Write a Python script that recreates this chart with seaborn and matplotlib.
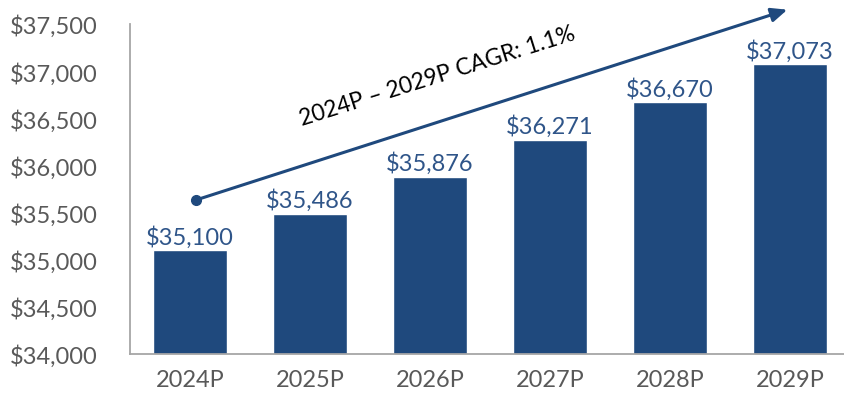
import numpy as np
import pandas as pd
import matplotlib
matplotlib.use("Agg")
import matplotlib.pyplot as plt
import seaborn as sns

years = ["2024P", "2025P", "2026P", "2027P", "2028P", "2029P"]
values = [35100, 35486, 35876, 36271, 36670, 37073]
cagr_text = "2024P \u2013 2029P CAGR: 1.1%"

bar_color = "#1F497D"
label_color = "#2F5589"
tick_color = "#595959"

sns.set_theme(style="white")
plt.rcParams["font.family"] = ["Lato", "DejaVu Sans"]

df = pd.DataFrame({"year": years, "value": values})

fig = plt.figure(figsize=(8.44, 4.02), dpi=100)
ax = fig.add_axes([0.154, 0.117, 0.846, 0.821])

sns.barplot(data=df, x="year", y="value", color=bar_color, width=0.61,
            saturation=1, ax=ax)

ax.set_ylim(34000, 37500)
ax.set_xlim(-0.5, 5.45)
ax.set_yticks(np.arange(34000, 37501, 500))
ax.set_yticklabels([f"${v:,.0f}" for v in np.arange(34000, 37501, 500)])
ax.tick_params(axis="y", labelsize=17, labelcolor=tick_color, length=0, pad=23)
ax.tick_params(axis="x", labelsize=17, labelcolor=tick_color, length=0, pad=11)
ax.set_xlabel("")
ax.set_ylabel("")

for side in ["top", "right"]:
    ax.spines[side].set_visible(False)
for side in ["left", "bottom"]:
    ax.spines[side].set_color("#A6A6A6")
    ax.spines[side].set_linewidth(1.3)

ax.bar_label(ax.containers[0], labels=[f"${v:,.0f}" for v in values],
             padding=2, fontsize=17, color=label_color)

# CAGR arrow
ax.annotate("", xy=(5.0, 37660), xytext=(0.05, 35633),
            arrowprops=dict(arrowstyle="-|>,head_length=0.8,head_width=0.35",
                            color=bar_color, lw=2.2),
            annotation_clip=False)
ax.plot([0.05], [35633], "o", color=bar_color, markersize=7, clip_on=False)
ax.text(2.06, 36950, cagr_text, rotation=17.5, ha="center", va="center",
        fontsize=16.5, color="black")

fig.savefig("out.png", dpi=100)
